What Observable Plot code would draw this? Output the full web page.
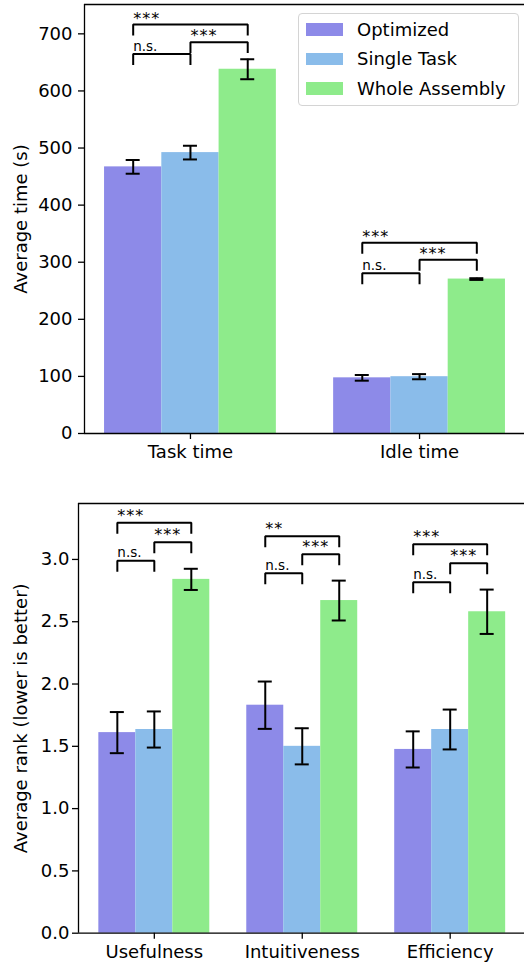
<!DOCTYPE html>
<html>
<head>
<meta charset="utf-8">
<script src="https://cdn.jsdelivr.net/npm/d3@7"></script>
<script src="https://cdn.jsdelivr.net/npm/@observablehq/plot@0.6"></script>
<style>
  body { margin: 0; background: #fff; font-family: "DejaVu Sans", sans-serif; }
  #wrap { position: relative; width: 524px; height: 966px; overflow: hidden; background: #fff; }
  #top { position: absolute; left: 0; top: 0; width: 530px; }
  #bottom { position: absolute; left: 0; top: 480px; width: 530px; }
  #top svg, #bottom svg { max-width: none !important; display: block; }
  #legendBox { position: absolute; left: 298px; top: 13px; width: 221px; height: 93px; box-sizing: border-box;
    border: 1px solid #d4d4d4; border-radius: 4px; background: rgba(255,255,255,0.8); }
  .lrow { position: absolute; left: 306px; height: 20px; display: flex; align-items: center; font-size: 18px; line-height: 20px; color: #000; white-space: nowrap; }
  .lsw { width: 37px; height: 12.7px; margin-right: 14px; }
</style>
</head>
<body>
<div id="wrap">
  <div id="top"></div>
  <div id="bottom"></div>
  <div id="legendBox"></div>
</div>
<script>
// ---------- data ----------
const seriesNames = ["Optimized", "Single Task", "Whole Assembly"];
const seriesColors = ["#8d8ae8", "#8abcea", "#8eeb8b"];

// Panel 1: average time
const timeCategories = ["Task time", "Idle time"];
const timeOptimized = [467, 97.5];
const timeOptimizedErr = [12, 5];
const timeSingle = [492, 99.5];
const timeSingleErr = [12, 4.5];
const timeWhole = [638, 270.5];
const timeWholeErr = [17.5, 1.5];
const timeTicks = [0, 100, 200, 300, 400, 500, 600, 700];
const timeBracketGroup = [0, 0, 0, 1, 1, 1];
const timeBracketFrom = [0, 1, 0, 0, 1, 0];
const timeBracketTo = [1, 2, 2, 1, 2, 2];
const timeBracketLevel = [664.5, 685.5, 716.3, 280.6, 304.5, 334];
const timeBracketLabel = ["n.s.", "***", "***", "n.s.", "***", "***"];

// Panel 2: average rank
const rankCategories = ["Usefulness", "Intuitiveness", "Efficiency"];
const rankOptimized = [1.61, 1.83, 1.475];
const rankOptimizedErr = [0.165, 0.19, 0.145];
const rankSingle = [1.635, 1.50, 1.635];
const rankSingleErr = [0.145, 0.145, 0.16];
const rankWhole = [2.84, 2.67, 2.58];
const rankWholeErr = [0.085, 0.16, 0.178];
const rankTicks = [0, 0.5, 1.0, 1.5, 2.0, 2.5, 3.0];
const rankBracketGroup = [0, 0, 0, 1, 1, 1, 2, 2, 2];
const rankBracketFrom = [0, 1, 0, 0, 1, 0, 0, 1, 0];
const rankBracketTo = [1, 2, 2, 1, 2, 2, 1, 2, 2];
const rankBracketLevel = [2.989, 3.138, 3.294, 2.889, 3.042, 3.186, 2.817, 2.970, 3.122];
const rankBracketLabel = ["n.s.", "***", "***", "n.s.", "***", "**", "n.s.", "***", "***"];

// ---------- helpers ----------
const BAR_W = 0.25;
function barRows(cats, means, errs) {
  const rows = [];
  means.forEach((vals, s) => {
    vals.forEach((v, c) => {
      const xc = c + (s - 1) * BAR_W;
      rows.push({series: seriesNames[s], cat: cats[c], x: xc, x1: xc - BAR_W / 2, x2: xc + BAR_W / 2,
        y: v, lo: v - errs[s][c], hi: v + errs[s][c]});
    });
  });
  return rows;
}
function bracketData(group, from, to, level, label, tickLen) {
  const pts = [], labels = [];
  group.forEach((g, i) => {
    const xa = g + (from[i] - 1) * BAR_W, xb = g + (to[i] - 1) * BAR_W, y = level[i];
    pts.push({id: i, x: xa, y: y - tickLen}, {id: i, x: xa, y}, {id: i, x: xb, y}, {id: i, x: xb, y: y - tickLen});
    labels.push({x: xa, y, text: label[i], star: label[i].includes("*")});
  });
  return {pts, labels};
}

function panel(o) {
  const rows = barRows(o.cats, o.means, o.errs);
  const br = bracketData(o.bGroup, o.bFrom, o.bTo, o.bLevel, o.bLabel, o.tickLen);
  const svg = Plot.plot({
    width: o.width, height: o.height,
    marginLeft: o.mL, marginRight: o.mR, marginTop: o.mT, marginBottom: o.mB,
    style: {fontFamily: "DejaVu Sans, sans-serif", fontSize: "18px", color: "#000", background: "transparent", maxWidth: "none"},
    x: {type: "linear", domain: o.xDomain},
    y: {type: "linear", domain: o.yDomain},
    color: {domain: seriesNames, range: seriesColors},
    marks: [
      Plot.rectY(rows, {x1: "x1", x2: "x2", y: "y", fill: "series"}),
      Plot.ruleX(rows, {x: "x", y1: "lo", y2: "hi", stroke: "#000", strokeWidth: 2}),
      Plot.ruleY(rows, {y: "lo", x1: "x", x2: "x", insetLeft: -7, insetRight: -7, stroke: "#000", strokeWidth: 2}),
      Plot.ruleY(rows, {y: "hi", x1: "x", x2: "x", insetLeft: -7, insetRight: -7, stroke: "#000", strokeWidth: 2}),
      Plot.line(br.pts, {x: "x", y: "y", z: "id", stroke: "#000", strokeWidth: 2, strokeLinejoin: "miter", strokeLinecap: "square"}),
      Plot.text(br.labels.filter(d => !d.star), {x: "x", y: "y", text: "text", textAnchor: "start", lineAnchor: "bottom", dy: o.nsDy, fontSize: 13.5, fill: "#000"}),
      Plot.text(br.labels.filter(d => d.star), {x: "x", y: "y", text: "text", textAnchor: "start", lineAnchor: "bottom", dy: o.starDy, fontSize: 16, fill: "#000"}),
      Plot.axisX({ticks: o.cats.map((c, i) => i), tickFormat: i => o.cats[i], tickSize: 6, tickPadding: 6, fontSize: 18, label: null, strokeWidth: 1.3}),
      Plot.axisY({ticks: o.yTicks, tickFormat: o.yFormat, tickSize: 6, tickPadding: o.yPad, fontSize: 18, label: null, strokeWidth: 1.3}),
      // spines: left, bottom, top (right spine falls outside the cropped figure)
      Plot.ruleX([o.xDomain[0]], {stroke: "#000", strokeWidth: 1.3}),
      Plot.ruleY([o.yDomain[0]], {stroke: "#000", strokeWidth: 1.3}),
      Plot.ruleY([o.yDomain[1]], {stroke: "#000", strokeWidth: 1.3}),
      Plot.text([o.ylabel], {frameAnchor: "left", textAnchor: "middle", rotate: -90, dx: o.labelDx, lineAnchor: "bottom", fontSize: 18, fill: "#000"})
    ]
  });
  d3.select(svg).selectAll("text").filter(function () { return /^\*+$/.test(this.textContent); })
    .style("letter-spacing", "1px");
  return svg;
}

document.getElementById("top").appendChild(panel({
  cats: timeCategories,
  means: [timeOptimized, timeSingle, timeWhole],
  errs: [timeOptimizedErr, timeSingleErr, timeWholeErr],
  bGroup: timeBracketGroup, bFrom: timeBracketFrom, bTo: timeBracketTo, bLevel: timeBracketLevel, bLabel: timeBracketLabel,
  tickLen: 17.5, nsDy: -3, starDy: -1,
  width: 526, height: 480, mL: 84, mR: 1, mT: 4, mB: 47,
  xDomain: [-0.4625, 1.4625], yDomain: [0, 751.4],
  yTicks: timeTicks, yFormat: d3.format("d"), yPad: 6,
  ylabel: "Average time (s)", labelDx: -58
}));

document.getElementById("bottom").appendChild(panel({
  cats: rankCategories,
  means: [rankOptimized, rankSingle, rankWhole],
  errs: [rankOptimizedErr, rankSingleErr, rankWholeErr],
  bGroup: rankBracketGroup, bFrom: rankBracketFrom, bTo: rankBracketTo, bLevel: rankBracketLevel, bLabel: rankBracketLabel,
  tickLen: 0.08, nsDy: -3.5, starDy: -2,
  width: 527, height: 486, mL: 78, mR: 1.5, mT: 23, mB: 33.3,
  xDomain: [-0.5125, 2.5125], yDomain: [0, 3.449],
  yTicks: rankTicks, yFormat: d3.format(".1f"), yPad: 3,
  ylabel: "Average rank (lower is better)", labelDx: -52
}));

// legend
const wrap = document.getElementById("wrap");
const rowCenters = [29.5, 59, 88.5];
seriesNames.forEach((name, i) => {
  const row = document.createElement("div");
  row.className = "lrow";
  row.style.top = (rowCenters[i] - 10) + "px";
  const sw = document.createElement("div");
  sw.className = "lsw";
  sw.style.background = seriesColors[i];
  const t = document.createElement("span");
  t.textContent = name;
  row.appendChild(sw);
  row.appendChild(t);
  wrap.appendChild(row);
});
</script>
</body>
</html>
